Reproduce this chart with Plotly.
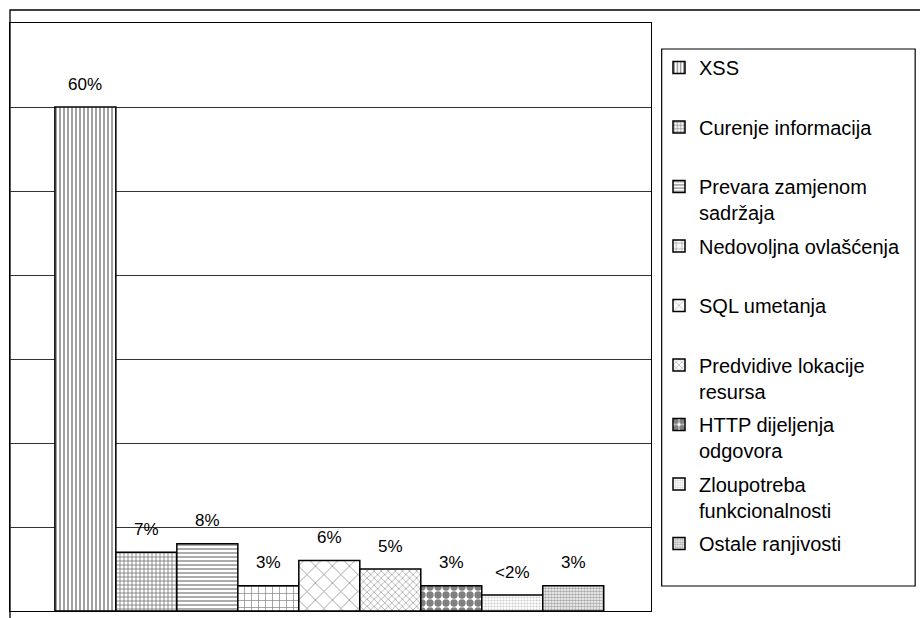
import plotly.graph_objects as go

# Web application vulnerability categories and their shares (%)
categories = [
    "XSS",
    "Curenje informacija",
    "Prevara zamjenom<br>sadržaja",
    "Nedovoljna ovlašćenja",
    "SQL umetanja",
    "Predvidive lokacije<br>resursa",
    "HTTP dijeljenja<br>odgovora",
    "Zloupotreba<br>funkcionalnosti",
    "Ostale ranjivosti",
]
shares = [60, 7, 8, 3, 6, 5, 3, 1.9, 3]
value_labels = ["60%", "7%", "8%", "3%", "6%", "5%", "3%", "<2%", "3%"]

# Monochrome fill patterns, one per category
patterns = [
    dict(shape="|", size=4, solidity=0.4, fgcolor="#111"),
    dict(shape="+", size=4, solidity=0.4, fgcolor="#000"),
    dict(shape="-", size=4, solidity=0.35, fgcolor="#111"),
    dict(shape="+", size=7, solidity=0.2, fgcolor="#111"),
    dict(shape="x", size=12, solidity=0.12, fgcolor="#111"),
    dict(shape="x", size=5, solidity=0.25, fgcolor="#333"),
    dict(shape=".", size=8, solidity=0.65, fgcolor="#000"),
    dict(shape=".", size=3, solidity=0.4, fgcolor="#999"),
    dict(shape=".", size=3, solidity=0.6, fgcolor="#555"),
]

FONT = "Liberation Sans, Arial, sans-serif"

fig = go.Figure()
for i, (name, val, pat) in enumerate(zip(categories, shares, patterns)):
    legend_name = name if "<br>" in name else name + "<br> "
    fig.add_trace(go.Bar(
        x=[i], y=[val], width=1, name=legend_name,
        legendgroup=str(i),
        marker=dict(color="white", pattern=dict(fillmode="overlay", bgcolor="white", **pat),
                    line=dict(color="black", width=1.5)),
        hoverinfo="skip",
    ))
    fig.add_annotation(x=i, y=val, text=value_labels[i], showarrow=False,
                       yanchor="middle", yshift=23,
                       font=dict(family=FONT, size=17, color="black"))

W, H = 920, 618
L, R, T, B = 10, 652, 23, 611


def px_x(p):
    return (p - L) / (R - L)


def px_y(p):
    return (B - p) / (B - T)


# outer chart frame
fig.add_shape(type="rect", xref="paper", yref="paper",
              x0=px_x(10), x1=px_x(935), y0=px_y(640), y1=px_y(10),
              line=dict(color="black", width=1.3), fillcolor="rgba(0,0,0,0)", layer="below")
# legend frame
fig.add_shape(type="rect", xref="paper", yref="paper",
              x0=px_x(663), x1=px_x(917), y0=px_y(586), y1=px_y(49),
              line=dict(color="black", width=1.2), fillcolor="rgba(0,0,0,0)")

fig.update_layout(
    width=W, height=H,
    margin=dict(l=L, r=W - R, t=T, b=H - B),
    paper_bgcolor="white", plot_bgcolor="white",
    barmode="overlay",
    showlegend=True,
    legend=dict(
        xref="container", yref="container",
        x=659 / W, y=1 - 48 / H, xanchor="left", yanchor="top",
        font=dict(family=FONT, size=20, color="black"),
        valign="top", tracegroupgap=4.5, traceorder="grouped",
        bgcolor="rgba(0,0,0,0)", borderwidth=0,
        maxheight=600,
    ),
    xaxis=dict(range=[-1.236, 9.27], showticklabels=False, ticks="", showgrid=False,
               zeroline=False, showline=True, mirror=True, linecolor="black", linewidth=1.3),
    yaxis=dict(range=[0, 70], dtick=10, showticklabels=False, ticks="", showgrid=True,
               gridcolor="#333", gridwidth=1, zeroline=False,
               showline=True, mirror=True, linecolor="black", linewidth=1.3),
    font=dict(family=FONT),
)

fig.write_html("out.html")
